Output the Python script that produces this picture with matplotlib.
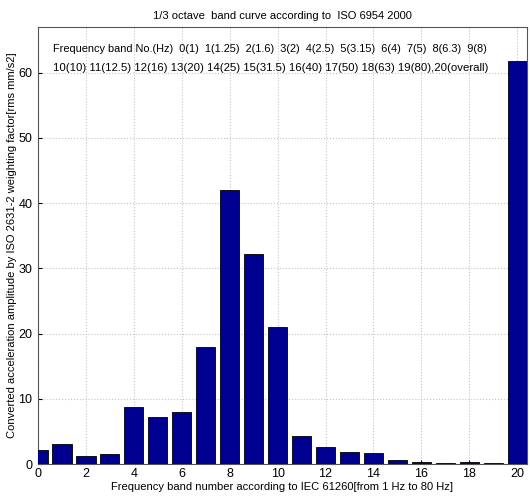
import matplotlib
matplotlib.use("Agg")
import matplotlib.pyplot as plt

plt.rcParams['font.family'] = ['Liberation Sans', 'DejaVu Sans']

bands = list(range(21))
values = [2.2, 3.05, 1.25, 1.5, 8.7, 7.15, 7.95, 18.0, 42.0, 32.2, 21.0,
          4.3, 2.7, 1.85, 1.75, 0.65, 0.35, 0.25, 0.35, 0.1, 61.7]
xticks = list(range(0, 21, 2))
yticks = list(range(0, 61, 10))
title = "1/3 octave  band curve according to  ISO 6954 2000"
line1 = "Frequency band No.(Hz)  0(1)  1(1.25)  2(1.6)  3(2)  4(2.5)  5(3.15)  6(4)  7(5)  8(6.3)  9(8)"
line2 = "10(10) 11(12.5) 12(16) 13(20) 14(25) 15(31.5) 16(40) 17(50) 18(63) 19(80),20(overall)"
xlabel = "Frequency band number according to IEC 61260[from 1 Hz to 80 Hz]"
ylabel = "Converted acceleration amplitude by ISO 2631-2 weighting factor[rms mm/s2]"

fig = plt.figure(figsize=(5.3, 4.98), dpi=100)
ax = fig.add_axes([0.0717, 0.068, 0.9223, 0.878])
ax.bar(bands, values, width=0.8, color='#000090', edgecolor='black', linewidth=0.6, zorder=3)
ax.set_xlim(0, 20.4)
ax.set_ylim(0, 67)
ax.set_xticks(xticks)
ax.set_yticks(yticks)
ax.grid(True, linestyle=':', color='#c4c4c4', linewidth=0.8, zorder=0)
ax.tick_params(labelsize=9, direction='in', length=3)
ax.tick_params(axis='y', pad=4)
ax.tick_params(axis='x', pad=3)
ax.set_title(title, fontsize=8, pad=6)
ax.set_xlabel(xlabel, fontsize=8, labelpad=1)
ax.set_ylabel(ylabel, fontsize=8, labelpad=1)
ax.text(0.031, 0.95, line1, transform=ax.transAxes, fontsize=7.9, va='center', ha='left')
ax.text(0.031, 0.905, line2, transform=ax.transAxes, fontsize=8.2, va='center', ha='left')
for s in ax.spines.values():
    s.set_color('#555555')
fig.savefig("out.png", dpi=100)
